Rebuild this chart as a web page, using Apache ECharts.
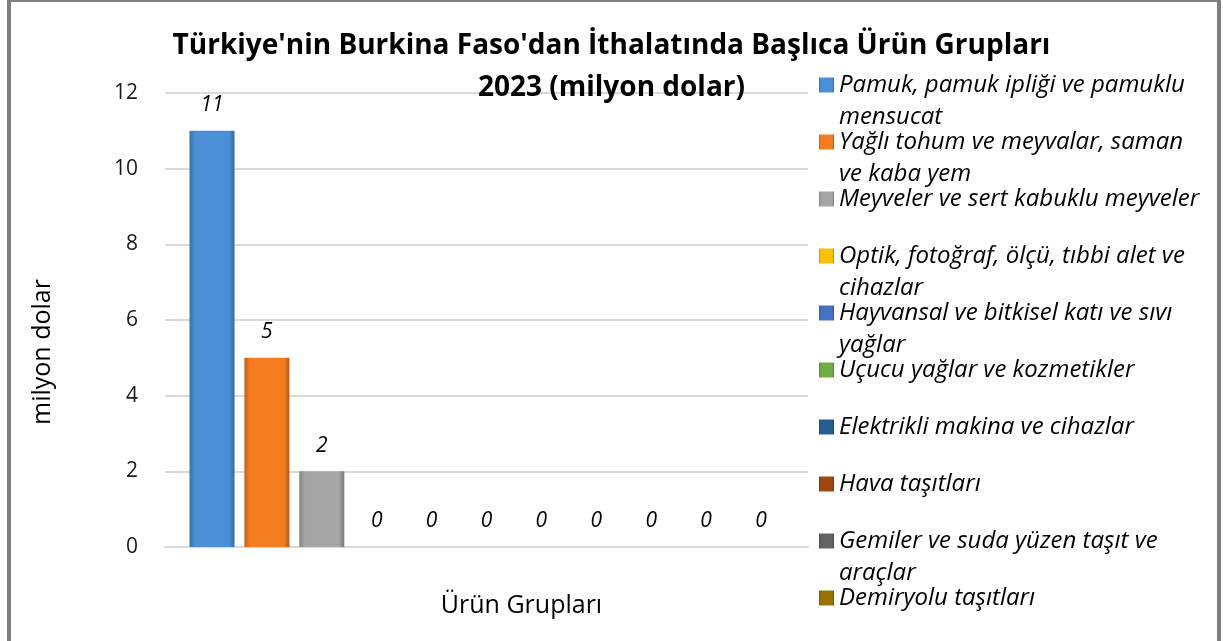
<!DOCTYPE html>
<html>
<head>
<meta charset="utf-8">
<script src="https://cdn.jsdelivr.net/npm/echarts@6/dist/echarts.min.js"></script>
<style>
  html, body { margin: 0; padding: 0; background: #fff; }
  #chart { width: 1223px; height: 641px; }
</style>
</head>
<body>
<div id="chart"></div>
<script>
// urun gruplari (legend'de ilk 10 gorunuyor, 11. cubuk sifir)
const groups = [
  'Pamuk, pamuk ipliği ve pamuklu mensucat',
  'Yağlı tohum ve meyvalar, saman ve kaba yem',
  'Meyveler ve sert kabuklu meyveler',
  'Optik, fotoğraf, ölçü, tıbbi alet ve cihazlar',
  'Hayvansal ve bitkisel katı ve sıvı yağlar',
  'Uçucu yağlar ve kozmetikler',
  'Elektrikli makina ve cihazlar',
  'Hava taşıtları',
  'Gemiler ve suda yüzen taşıt ve araçlar',
  'Demiryolu taşıtları',
  'Diğer'
]
const values = [11, 5, 2, 0, 0, 0, 0, 0, 0, 0, 0]
const yTicks = [0, 2, 4, 6, 8, 10, 12]
const legendNames = groups.slice(0, 10)

// legend satir kirilimlari
const wrapped = {
  'Pamuk, pamuk ipliği ve pamuklu mensucat': 'Pamuk, pamuk ipliği ve pamuklu\nmensucat',
  'Yağlı tohum ve meyvalar, saman ve kaba yem': 'Yağlı tohum ve meyvalar, saman\nve kaba yem',
  'Optik, fotoğraf, ölçü, tıbbi alet ve cihazlar': 'Optik, fotoğraf, ölçü, tıbbi alet ve\ncihazlar',
  'Hayvansal ve bitkisel katı ve sıvı yağlar': 'Hayvansal ve bitkisel katı ve sıvı\nyağlar',
  'Gemiler ve suda yüzen taşıt ve araçlar': 'Gemiler ve suda yüzen taşıt ve\naraçlar'
}

const palette = ['#4a8fd8', '#f57c1f', '#a5a5a5', '#ffc000', '#4472c4', '#70ad47',
  '#255e91', '#9e480e', '#636363', '#997300', '#264478']

function shade(hex, k) {
  const n = parseInt(hex.slice(1), 16)
  const r = Math.round(((n >> 16) & 255) * k)
  const g = Math.round(((n >> 8) & 255) * k)
  const b = Math.round((n & 255) * k)
  return 'rgb(' + r + ',' + g + ',' + b + ')'
}

function bevel(c) {
  return new echarts.graphic.LinearGradient(0, 0, 1, 0, [
    { offset: 0, color: shade(c, 0.78) },
    { offset: 0.12, color: c },
    { offset: 0.88, color: c },
    { offset: 1, color: shade(c, 0.72) }
  ])
}

const font = 'Open Sans'

const chart = echarts.init(document.getElementById('chart'))

const option = {
  animation: false,
  title: {
    text: "Türkiye'nin Burkina Faso'dan İthalatında Başlıca Ürün Grupları\n2023 (milyon dolar)",
    left: 'center',
    top: 25,
    padding: 0,
    textStyle: {
      fontFamily: font,
      fontWeight: 'bold',
      fontSize: 28,
      lineHeight: 42,
      color: '#000'
    }
  },
  legend: {
    orient: 'vertical',
    left: 819,
    top: 37,
    height: 1000,
    padding: 0,
    itemWidth: 15,
    itemHeight: 15,
    itemGap: -39,
    icon: 'rect',
    data: legendNames,
    // bos ilk satir: ikon ilk satirla ayni hizada kalsin
    formatter: name => ' \n' + (wrapped[name] || name + '\n '),
    textStyle: {
      fontFamily: font,
      fontStyle: 'italic',
      fontSize: 24,
      lineHeight: 32,
      color: '#000'
    }
  },
  grid: {
    left: 165,
    right: 415,
    top: 93,
    bottom: 94
  },
  xAxis: {
    type: 'category',
    data: [''],
    name: 'Ürün Grupları',
    nameLocation: 'middle',
    nameGap: 46,
    nameTextStyle: {
      fontFamily: font,
      fontSize: 25,
      color: '#000',
      padding: [0, 0, 0, 70]
    },
    axisLine: { lineStyle: { color: '#d9d9d9', width: 2 } },
    axisTick: { show: false },
    axisLabel: { show: false }
  },
  yAxis: {
    type: 'value',
    min: yTicks[0],
    max: yTicks[yTicks.length - 1],
    interval: 2,
    name: 'milyon dolar',
    nameLocation: 'middle',
    nameGap: 110,
    nameTextStyle: {
      fontFamily: font,
      fontSize: 25,
      color: '#000',
      padding: [0, 64, 0, 0]
    },
    axisLine: { show: false },
    axisTick: { show: false },
    axisLabel: {
      margin: 27,
      fontFamily: font,
      fontSize: 21,
      color: '#1a1a1a'
    },
    splitLine: { lineStyle: { color: '#d9d9d9', width: 2 } }
  },
  series: groups.map((g, i) => ({
    name: g,
    type: 'bar',
    data: [values[i]],
    barWidth: 45,
    barGap: '22%',
    itemStyle: {
      color: bevel(palette[i])
    },
    label: {
      show: true,
      position: 'top',
      distance: 15,
      fontFamily: font,
      fontStyle: 'italic',
      fontSize: 21,
      color: '#000'
    }
  })),
  graphic: [
    {
      type: 'rect',
      shape: { x: 9, y: 0, width: 1210, height: 660 },
      style: { fill: null, stroke: '#7f7f7f', lineWidth: 4 },
      silent: true
    }
  ]
}

chart.setOption(option)
</script>
</body>
</html>
